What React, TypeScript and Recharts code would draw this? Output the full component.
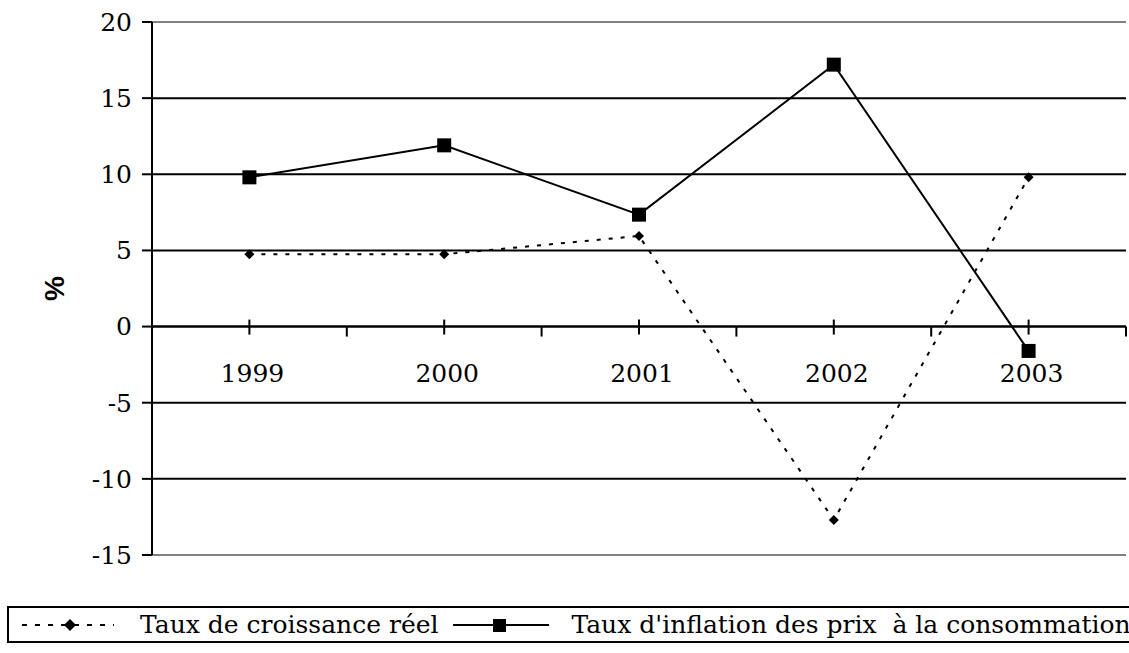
import React from "react"
import {
  LineChart,
  Line,
  XAxis,
  YAxis,
  CartesianGrid,
  ReferenceLine,
  Legend,
} from "recharts"

const years = ["1999", "2000", "2001", "2002", "2003"]
const croissance = [4.75, 4.75, 5.95, -12.7, 9.8]
const inflation = [9.8, 11.9, 7.35, 17.2, -1.6]
const yTicks = [-15, -10, -5, 0, 5, 10, 15, 20]

const data = years.map((year, i) => ({
  year,
  croissance: croissance[i],
  inflation: inflation[i],
}))

const W = 1129
const H = 653
const TOP = 22
const PLOT_BOTTOM = 555
const LEFT = 152
const RIGHT = 3
const Y_MIN = -15
const Y_MAX = 20
const SERIF = "DejaVu Serif, serif"

const zeroY = TOP + ((PLOT_BOTTOM - TOP) * Y_MAX) / (Y_MAX - Y_MIN)
const band = (W - LEFT - RIGHT) / years.length

// category ticks cross the zero line, boundary ticks hang below it
function YearTick(props: any) {
  const { x, payload } = props
  return (
    <g>
      <line x1={x} x2={x} y1={zeroY - 7} y2={zeroY + 8} stroke="#000" strokeWidth={2} />
      <line
        x1={x + band / 2}
        x2={x + band / 2}
        y1={zeroY}
        y2={zeroY + 10}
        stroke="#000"
        strokeWidth={2}
      />
      <text
        x={x + 3}
        y={zeroY + 55}
        textAnchor="middle"
        fontFamily={SERIF}
        fontSize={25}
        fill="#000"
      >
        {payload.value}
      </text>
    </g>
  )
}

function Diamond(props: any) {
  const { cx, cy } = props
  if (cx == null || cy == null) return null
  const r = 5
  return (
    <polygon
      points={`${cx},${cy - r} ${cx + r},${cy} ${cx},${cy + r} ${cx - r},${cy}`}
      fill="#000"
    />
  )
}

function Square(props: any) {
  const { cx, cy } = props
  if (cx == null || cy == null) return null
  return <rect x={cx - 7} y={cy - 7} width={14} height={14} fill="#000" />
}

function PercentLabel(props: any) {
  const { viewBox } = props
  if (!viewBox) return null
  const x = viewBox.x + 54
  const y = viewBox.y + viewBox.height / 2
  return (
    <text
      x={x}
      y={y}
      transform={`rotate(-90 ${x} ${y})`}
      textAnchor="middle"
      dominantBaseline="central"
      fontFamily="Liberation Sans, Arial, sans-serif"
      fontWeight="bold"
      fontSize={28}
      fill="#000"
    >
      %
    </text>
  )
}

function LegendBox() {
  const text: React.CSSProperties = {
    fontFamily: SERIF,
    fontSize: 25,
    whiteSpace: "pre",
    lineHeight: "34px",
  }
  return (
    <div
      style={{
        width: 1140,
        height: 37,
        border: "2px solid #000",
        boxSizing: "border-box",
        display: "flex",
        alignItems: "center",
      }}
    >
      <svg width={100} height={20} style={{ marginLeft: 10 }}>
        <line x1={3} x2={95} y1={10} y2={10} stroke="#000" strokeWidth={2} strokeDasharray="5 8" />
        <polygon points="51,4 57,10 51,16 45,10" fill="#000" />
      </svg>
      <span style={{ ...text, marginLeft: 21 }}>Taux de croissance réel</span>
      <svg width={98} height={20} style={{ marginLeft: 15 }}>
        <line x1={0} x2={96} y1={10} y2={10} stroke="#000" strokeWidth={2} />
        <rect x={40} y={4} width={13} height={13} fill="#000" />
      </svg>
      <span style={{ ...text, marginLeft: 20 }}>Taux d'inflation des prix  à la consommation</span>
    </div>
  )
}

export default function App() {
  return (
    <div style={{ position: "absolute", left: 0, top: 0, width: W, height: H, background: "#fff" }}>
      <LineChart
        width={W}
        height={H}
        data={data}
        margin={{ top: TOP, right: RIGHT, bottom: H - PLOT_BOTTOM - 30, left: 0 }}
      >
        <CartesianGrid horizontal vertical={false} stroke="#000" strokeWidth={2} />
        <ReferenceLine y={Y_MAX} stroke="#808080" strokeWidth={2} />
        <ReferenceLine y={Y_MIN} stroke="#808080" strokeWidth={2} />
        <ReferenceLine y={0} stroke="#000" strokeWidth={2} />
        <XAxis
          dataKey="year"
          height={30}
          axisLine={false}
          tickLine={false}
          tick={<YearTick />}
          interval={0}
          padding={{ left: band / 2, right: band / 2 }}
        />
        <YAxis
          width={LEFT}
          domain={[Y_MIN, Y_MAX]}
          ticks={yTicks}
          interval={0}
          axisLine={{ stroke: "#000", strokeWidth: 2 }}
          tickLine={{ stroke: "#000", strokeWidth: 2 }}
          tickSize={10}
          tickMargin={10}
          tick={{ fill: "#000", fontFamily: SERIF, fontSize: 25 }}
          label={<PercentLabel />}
        />
        <YAxis
          yAxisId="right"
          orientation="right"
          width={0}
          domain={[Y_MIN, Y_MAX]}
          axisLine={{ stroke: "#808080", strokeWidth: 2 }}
          tickLine={false}
          tick={false}
        />
        <Line
          dataKey="croissance"
          stroke="#000"
          strokeWidth={2}
          strokeDasharray="4 8"
          dot={<Diamond />}
          activeDot={false}
          isAnimationActive={false}
        />
        <Line
          dataKey="inflation"
          stroke="#000"
          strokeWidth={2}
          dot={<Square />}
          activeDot={false}
          isAnimationActive={false}
        />
        <Legend
          layout="horizontal"
          verticalAlign="middle"
          align="center"
          wrapperStyle={{ top: 606, left: 7, width: 1140 }}
          content={() => <LegendBox />}
        />
      </LineChart>
    </div>
  )
}
